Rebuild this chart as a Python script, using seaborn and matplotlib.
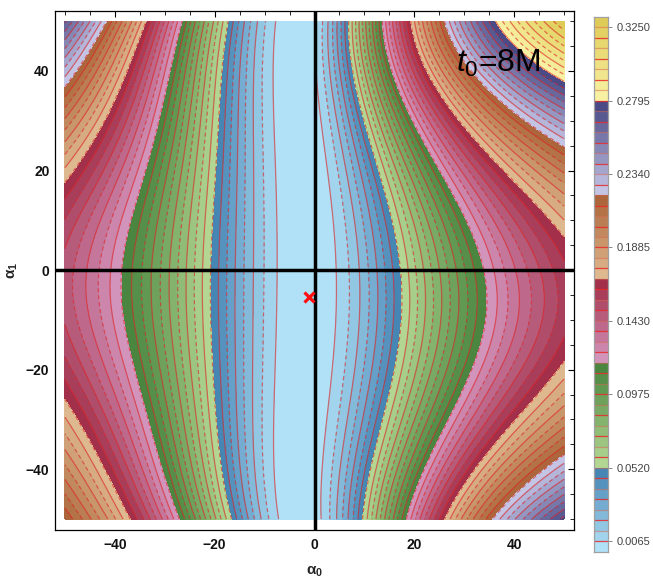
import numpy as np
import matplotlib
matplotlib.use("Agg")
import matplotlib.pyplot as plt
import seaborn as sns
from matplotlib.colors import ListedColormap, BoundaryNorm
from matplotlib.ticker import MultipleLocator, NullLocator

# ---------------- data ----------------
ALPHA0_LIMITS = (-50, 50)
ALPHA1_LIMITS = (-50, 50)
# model parameters of the mismatch surface, read row by row (alpha1 rows)
ROW_ALPHA1 = [-50, -25, 0, 25, 50]
CENTER_ALPHA0 = [-2.7, -2.5, -1.5, -2.5, -3.0]
AMP_LEFT = [0.412, 0.340, 0.294, 0.400, 0.630]
AMP_RIGHT = [0.470, 0.345, 0.308, 0.375, 0.515]
WIDTH_LEFT = [25.0, 28.0, 28.0, 30.0, 33.0]
WIDTH_RIGHT = [24.0, 28.0, 28.0, 23.5, 20.2]

LEVEL_STEP = 0.0065
N_BANDS = 51
GROUP_SIZES = [8, 10, 8, 8, 9, 8]
GROUP_LIGHT = ["#b1e1f6", "#b3d793", "#d394bb", "#deb88f", "#c4c5e5", "#f8f1a4"]
GROUP_DARK = ["#4686b5", "#4a8640", "#a2304a", "#ad663b", "#4a4a86", "#dfcc58"]
CBAR_TICKS = [0.0065, 0.0520, 0.0975, 0.1430, 0.1885, 0.2340, 0.2795, 0.3250]
AXIS_TICKS = [-40, -20, 0, 20, 40]
BEST_FIT = (-1.1, -5.4)
ANNOTATION = r"$t_0$=8M"
XLABEL = r"$\mathbf{\alpha_0}$"
YLABEL = r"$\mathbf{\alpha_1}$"

# ---------------- style ----------------
sns.set_theme(style="white")
plt.rcParams["font.family"] = ["Liberation Sans", "DejaVu Sans"]
plt.rcParams["mathtext.fontset"] = "custom"
plt.rcParams["mathtext.rm"] = "Liberation Sans"
plt.rcParams["mathtext.it"] = "Liberation Sans:italic"
plt.rcParams["mathtext.bf"] = "Liberation Sans:bold"
plt.rcParams["lines.dashed_pattern"] = [3.2, 2.4]

# ---------------- field ----------------
a0 = np.linspace(ALPHA0_LIMITS[0], ALPHA0_LIMITS[1], 601)
a1 = np.linspace(ALPHA1_LIMITS[0], ALPHA1_LIMITS[1], 601)
A0, A1 = np.meshgrid(a0, a1)


def row_param(vals, y):
    coef = np.polyfit(ROW_ALPHA1, vals, len(ROW_ALPHA1) - 1)
    return np.polyval(coef, y)


u = A0 - row_param(CENTER_ALPHA0, A1)
amp = np.where(u < 0, row_param(AMP_LEFT, A1), row_param(AMP_RIGHT, A1))
wid = np.where(u < 0, row_param(WIDTH_LEFT, A1), row_param(WIDTH_RIGHT, A1))
F = amp * (1.0 - 1.0 / np.sqrt(1.0 + (u / wid) ** 2))

levels = LEVEL_STEP * np.arange(N_BANDS + 1)
F = np.clip(F, 0, levels[-1] - 1e-6)

colors = []
for n, lo, hi in zip(GROUP_SIZES, GROUP_LIGHT, GROUP_DARK):
    colors += list(sns.blend_palette([lo, hi], n_colors=n))
cmap = ListedColormap(colors)
norm = BoundaryNorm(levels, N_BANDS)

# ---------------- figure ----------------
fig = plt.figure(figsize=(6.53, 5.87), dpi=100)
ax = fig.add_axes([55 / 653, 1 - 529.5 / 587, 519 / 653, 518.5 / 587])

cf = ax.contourf(A0, A1, F, levels=levels, cmap=cmap, norm=norm)
line_levels = levels[1:-1]
styles = ["solid" if i % 2 == 0 else "dashed" for i in range(len(line_levels))]
ax.contour(A0, A1, F, levels=line_levels, colors=["#e02828"],
           linewidths=0.9, linestyles=styles, alpha=0.62)

ax.axhline(0, color="black", lw=2.5, zorder=5)
ax.axvline(0, color="black", lw=2.5, zorder=5)
ax.plot([BEST_FIT[0]], [BEST_FIT[1]], marker="x", color="#ff1010",
        ms=6.5, mew=2.3, ls="none", zorder=6)
ax.text(28.3, 39.8, ANNOTATION, fontsize=23, color="black",
        ha="left", va="baseline", zorder=7)

ax.set_xlim(-52, 52)
ax.set_ylim(-52.1, 52.05)
ax.set_xticks(AXIS_TICKS)
ax.set_yticks(AXIS_TICKS)
ax.set_xticklabels([f"{t:d}".replace("-", "\u2212") for t in AXIS_TICKS])
ax.set_yticklabels([f"{t:d}".replace("-", "\u2212") for t in AXIS_TICKS])
ax.xaxis.set_minor_locator(MultipleLocator(5))
ax.yaxis.set_minor_locator(MultipleLocator(5))
ax.tick_params(which="major", direction="in", length=4.5, width=0.8,
               top=True, right=True, labelsize=10, pad=6, colors="black")
ax.tick_params(which="minor", direction="in", length=2.6, width=0.7,
               top=True, right=True)
for lab in ax.get_xticklabels() + ax.get_yticklabels():
    lab.set_fontweight("bold")
    lab.set_color("#111111")
ax.tick_params(axis="y", pad=4)
for sp in ax.spines.values():
    sp.set_color("black")
    sp.set_linewidth(0.9)

ax.set_xlabel(XLABEL, fontsize=11, labelpad=9)
ax.set_ylabel(YLABEL, fontsize=11, labelpad=4)

# ---------------- colour legend bar ----------------
cax = fig.add_axes([594 / 653, 1 - 551.7 / 587, 14 / 653, 535 / 587])
band_mid = 0.5 * (levels[:-1] + levels[1:])
cax.pcolormesh([0, 1], levels, band_mid[:, None], cmap=cmap, norm=norm,
               shading="flat")
for i, lv in enumerate(line_levels):
    if i % 2 == 0:
        cax.axhline(lv, color="#e82a2a", lw=0.9, alpha=0.85)
    else:
        cax.axhline(lv, color="#d8604a", lw=0.9, alpha=0.5)
cax.set_xlim(0, 1)
cax.set_ylim(levels[0], levels[-1])
cax.set_xticks([])
cax.yaxis.set_ticks_position("right")
cax.yaxis.set_label_position("right")
cax.set_yticks(CBAR_TICKS)
cax.set_yticklabels([f"{t:.4f}" for t in CBAR_TICKS])
cax.yaxis.set_minor_locator(NullLocator())
cax.tick_params(axis="y", which="major", direction="out", length=3, width=0.7,
                colors="#888888", labelsize=8, labelcolor="#444444", pad=3,
                left=False, right=True, labelleft=False, labelright=True)
for sp in cax.spines.values():
    sp.set_color("#a0a0a0")
    sp.set_linewidth(0.9)

fig.savefig("out.png", dpi=100)
